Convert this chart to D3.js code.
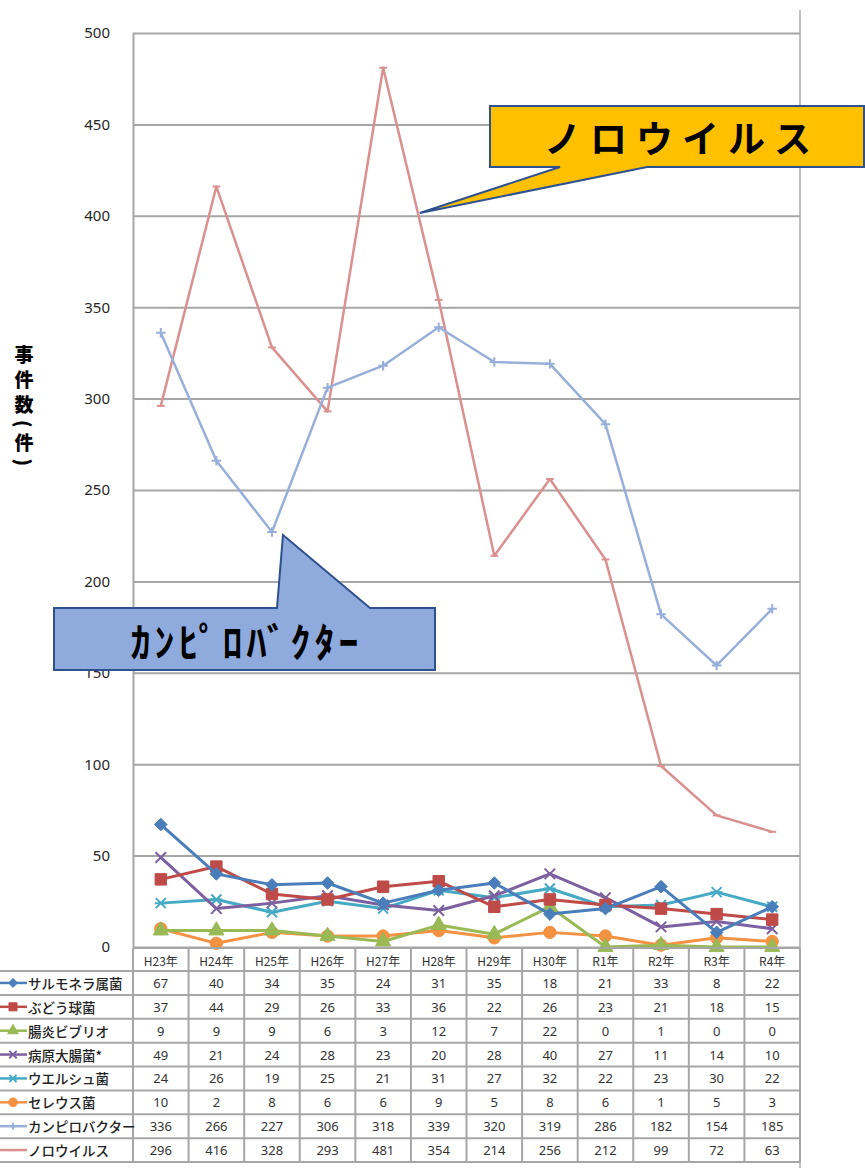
<!DOCTYPE html>
<html>
<head>
<meta charset="utf-8">
<script src="https://cdn.jsdelivr.net/npm/d3@7"></script>
<style>
    body { margin: 0; background: #fff; }
    svg { display: block; font-family: "Noto Sans CJK JP", "Noto Sans", sans-serif; }
</style>
</head>
<body>
<div id="chart"></div>
<script>
// categories (fiscal years)
const years = ["H23年", "H24年", "H25年", "H26年", "H27年", "H28年", "H29年", "H30年", "R1年", "R2年", "R3年", "R4年"];

// series names, same order as the table rows
const seriesNames = ["サルモネラ属菌", "ぶどう球菌", "腸炎ビブリオ", "病原大腸菌*", "ウエルシュ菌", "セレウス菌", "カンピロバクター", "ノロウイルス"];

// number of incidents per year
const salmonella    = [67, 40, 34, 35, 24, 31, 35, 18, 21, 33, 8, 22];
const staphylococcus = [37, 44, 29, 26, 33, 36, 22, 26, 23, 21, 18, 15];
const vibrio        = [9, 9, 9, 6, 3, 12, 7, 22, 0, 1, 0, 0];
const pathogenicEcoli = [49, 21, 24, 28, 23, 20, 28, 40, 27, 11, 14, 10];
const welchii       = [24, 26, 19, 25, 21, 31, 27, 32, 22, 23, 30, 22];
const cereus        = [10, 2, 8, 6, 6, 9, 5, 8, 6, 1, 5, 3];
const campylobacter = [336, 266, 227, 306, 318, 339, 320, 319, 286, 182, 154, 185];
const norovirus     = [296, 416, 328, 293, 481, 354, 214, 256, 212, 99, 72, 63];

const yTicks = [0, 50, 100, 150, 200, 250, 300, 350, 400, 450, 500];

const axisTitle = "事件数(件)";
const noroLabel = "ノロウイルス";
const campyLabel = "ｶﾝﾋﾟﾛﾊﾞｸﾀｰ";


// markers drawn like the spreadsheet ones
const markDiamond = { draw(ctx, size) { let r = Math.sqrt(size) / 2;
    ctx.moveTo(0, -r); ctx.lineTo(r, 0); ctx.lineTo(0, r); ctx.lineTo(-r, 0); ctx.closePath(); } };
const markX = { draw(ctx, size) { let r = Math.sqrt(size) / 2;
    ctx.moveTo(-r, -r); ctx.lineTo(r, r); ctx.moveTo(r, -r); ctx.lineTo(-r, r); } };
const markStar = { draw(ctx, size) { let r = Math.sqrt(size) / 2;
    ctx.moveTo(-r, -r); ctx.lineTo(r, r); ctx.moveTo(r, -r); ctx.lineTo(-r, r);
    ctx.moveTo(-r * 1.2, 0); ctx.lineTo(r * 1.2, 0); } };
const markPlus = { draw(ctx, size) { let r = Math.sqrt(size) / 2;
    ctx.moveTo(-r, 0); ctx.lineTo(r, 0); ctx.moveTo(0, -r); ctx.lineTo(0, r); } };
const markDash = { draw(ctx, size) { let r = Math.sqrt(size) / 2;
    ctx.moveTo(-r, 0); ctx.lineTo(r, 0); } };


class LineTableVis {

    constructor(parentElement) {
        this.parentElement = parentElement;
        this.initVis();
    }

    initVis() {
        let vis = this;

        vis.width = 865;
        vis.height = 1168;
        vis.plot = {left: 133, right: 800, top: 33, bottom: 947};

        vis.svg = d3.select("#" + vis.parentElement).append("svg")
            .attr("width", vis.width)
            .attr("height", vis.height);

        vis.series = [
            {name: seriesNames[0], values: salmonella,      color: "#4a7ebb", symbol: markDiamond,       size: 160, fill: true,  lw: 3},
            {name: seriesNames[1], values: staphylococcus,  color: "#be4b48", symbol: d3.symbolSquare,   size: 130, fill: true,  lw: 3},
            {name: seriesNames[2], values: vibrio,          color: "#98b954", symbol: d3.symbolTriangle, size: 100, fill: true,  lw: 3},
            {name: seriesNames[3], values: pathogenicEcoli, color: "#7d60a0", symbol: markX,             size: 110, fill: false, lw: 3},
            {name: seriesNames[4], values: welchii,         color: "#46aac5", symbol: markStar,          size: 100, fill: false, lw: 3},
            {name: seriesNames[5], values: cereus,          color: "#f39243", symbol: d3.symbolCircle,   size: 120, fill: true,  lw: 3},
            {name: seriesNames[6], values: campylobacter,   color: "#98afd9", symbol: markPlus,          size: 90,  fill: false, lw: 2.5},
            {name: seriesNames[7], values: norovirus,       color: "#d9908f", symbol: markDash,          size: 60,  fill: false, lw: 2.5}
        ];

        vis.x = d3.scaleBand().domain(years).range([vis.plot.left, vis.plot.right]);
        vis.y = d3.scaleLinear().domain([0, 500]).range([vis.plot.bottom, vis.plot.top]);
        vis.row = d3.scaleBand().domain(seriesNames).range([971, 1162]);

        vis.cx = i => vis.x(years[i]) + vis.x.bandwidth() / 2;

        vis.drawAxes();
        vis.drawLines();
        vis.drawTable();
        vis.drawCallouts();
    }

    drawAxes() {
        let vis = this;

        // right border of the chart area
        vis.svg.append("line")
            .attr("x1", vis.plot.right).attr("x2", vis.plot.right)
            .attr("y1", 10).attr("y2", vis.height)
            .attr("stroke", "#bfbfbf").attr("stroke-width", 2);

        let yAxis = vis.svg.append("g")
            .attr("transform", "translate(" + vis.plot.left + ",0)")
            .call(d3.axisLeft(vis.y)
                .tickValues(yTicks)
                .tickSizeInner(-(vis.plot.right - vis.plot.left))
                .tickSizeOuter(0)
                .tickPadding(23));

        yAxis.select(".domain").attr("stroke", "#a6a6a6").attr("stroke-width", 2);
        yAxis.selectAll(".tick line").attr("stroke", "#a6a6a6").attr("stroke-width", 2);
        yAxis.selectAll(".tick text")
            .attr("fill", "#262626")
            .style("font-family", "'Noto Sans', sans-serif")
            .style("font-size", "15px");

        // vertical axis title, one character under the other
        vis.svg.append("text")
            .attr("x", 24)
            .attr("y", 345)
            .attr("writing-mode", "tb")
            .style("font-size", "19px")
            .style("font-weight", 900)
            .style("letter-spacing", "6px")
            .attr("fill", "#000")
            .text(axisTitle);
    }

    drawLines() {
        let vis = this;

        let line = d3.line()
            .x((d, i) => vis.cx(i))
            .y(d => vis.y(d));

        // draw back to front so the small series sit on top like the original
        let order = [7, 6, 5, 4, 3, 2, 1, 0];
        let groups = vis.svg.append("g").selectAll("g")
            .data(order.map(i => vis.series[i]))
            .enter().append("g");

        groups.append("path")
            .attr("d", d => line(d.values))
            .attr("fill", "none")
            .attr("stroke", d => d.color)
            .attr("stroke-width", d => d.lw)
            .attr("stroke-linejoin", "round");

        groups.each(function(s) {
            d3.select(this).selectAll(".mark")
                .data(s.values)
                .enter().append("path")
                .attr("class", "mark")
                .attr("transform", (d, i) => "translate(" + vis.cx(i) + "," + vis.y(d) + ")")
                .attr("d", d3.symbol().type(s.symbol).size(s.size))
                .attr("fill", s.fill ? s.color : "none")
                .attr("stroke", s.color)
                .attr("stroke-width", s.fill ? 1 : 2);
        });
    }

    drawTable() {
        let vis = this;
        let grid = "#a6a6a6";
        let top = 948;

        let t = vis.svg.append("g");

        // horizontal rules
        t.append("line")
            .attr("x1", vis.plot.left).attr("x2", vis.plot.right)
            .attr("y1", top).attr("y2", top)
            .attr("stroke", grid).attr("stroke-width", 2);
        t.selectAll(".hrule")
            .data(seriesNames.map(n => vis.row(n)).concat([vis.row.range()[1]]))
            .enter().append("line")
            .attr("x1", 0).attr("x2", vis.plot.right)
            .attr("y1", d => d).attr("y2", d => d)
            .attr("stroke", grid).attr("stroke-width", 2);

        // vertical rules
        t.selectAll(".vrule")
            .data(years.map(c => vis.x(c)).concat([vis.plot.right]))
            .enter().append("line")
            .attr("x1", d => d).attr("x2", d => d)
            .attr("y1", top).attr("y2", vis.row.range()[1])
            .attr("stroke", grid).attr("stroke-width", 2);

        // header
        t.selectAll(".head")
            .data(years)
            .enter().append("text")
            .attr("x", (d, i) => vis.cx(i))
            .attr("y", 960)
            .attr("text-anchor", "middle")
            .attr("dominant-baseline", "central")
            .attr("fill", "#333")
            .style("font-size", "12px")
            .text(d => d);

        let rows = t.selectAll(".row")
            .data(vis.series)
            .enter().append("g")
            .attr("transform", d => "translate(0," + (vis.row(d.name) + vis.row.bandwidth() / 2) + ")");

        // legend keys
        rows.append("line")
            .attr("x1", 0).attr("x2", 27)
            .attr("stroke", d => d.color)
            .attr("stroke-width", 2.5);
        rows.append("path")
            .attr("transform", "translate(13,0)")
            .attr("d", d => d3.symbol().type(d.symbol).size(d.size * 0.5)())
            .attr("fill", d => d.fill ? d.color : "none")
            .attr("stroke", d => d.color)
            .attr("stroke-width", d => d.fill ? 1 : 2);
        rows.append("text")
            .attr("x", 28)
            .attr("dominant-baseline", "central")
            .attr("fill", "#222")
            .style("font-size", "13.5px")
            .style("font-weight", 500)
            .text(d => d.name);

        // values
        rows.each(function(s) {
            d3.select(this).selectAll(".val")
                .data(s.values)
                .enter().append("text")
                .attr("x", (d, i) => vis.cx(i))
                .attr("text-anchor", "middle")
                .attr("dominant-baseline", "central")
                .attr("fill", "#333")
                .style("font-family", "'Noto Sans', sans-serif")
                .style("font-size", "13px")
                .text(d => d);
        });
    }

    drawCallouts() {
        let vis = this;
        let edge = "#2f528f";

        // ノロウイルス: tip on the H27 -> H28 segment
        let t = 0.66;
        let tipN = [vis.cx(4) + t * (vis.cx(5) - vis.cx(4)),
                    vis.y(norovirus[4]) + t * (vis.y(norovirus[5]) - vis.y(norovirus[4])) - 8];
        let bN = {x0: 490, x1: 864, y0: 106, y1: 167};
        let pN = d3.path();
        pN.moveTo(bN.x0, bN.y0);
        pN.lineTo(bN.x1, bN.y0);
        pN.lineTo(bN.x1, bN.y1);
        pN.lineTo(647, bN.y1);
        pN.lineTo(tipN[0], tipN[1]);
        pN.lineTo(560, bN.y1);
        pN.lineTo(bN.x0, bN.y1);
        pN.closePath();
        vis.svg.append("path")
            .attr("d", pN.toString())
            .attr("fill", "#ffc000")
            .attr("stroke", edge)
            .attr("stroke-width", 2);
        vis.svg.append("text")
            .attr("x", (bN.x0 + bN.x1) / 2 + 5)
            .attr("y", (bN.y0 + bN.y1) / 2)
            .attr("text-anchor", "middle")
            .attr("dominant-baseline", "central")
            .style("font-size", "37px")
            .style("font-weight", 700)
            .style("letter-spacing", "9px")
            .attr("fill", "#000")
            .text(noroLabel);

        // カンピロバクター: tip next to the H25 point
        let tipC = [vis.cx(2) + 11, vis.y(campylobacter[2]) + 3];
        let bC = {x0: 54, x1: 435, y0: 608, y1: 670};
        let pC = d3.path();
        pC.moveTo(bC.x0, bC.y0);
        pC.lineTo(277, bC.y0);
        pC.lineTo(tipC[0], tipC[1]);
        pC.lineTo(370, bC.y0);
        pC.lineTo(bC.x1, bC.y0);
        pC.lineTo(bC.x1, bC.y1);
        pC.lineTo(bC.x0, bC.y1);
        pC.closePath();
        vis.svg.append("path")
            .attr("d", pC.toString())
            .attr("fill", "#8faadc")
            .attr("stroke", edge)
            .attr("stroke-width", 2);
        vis.svg.append("text")
            .attr("x", (bC.x0 + bC.x1) / 2 + 2)
            .attr("y", (bC.y0 + bC.y1) / 2 + 1)
            .attr("text-anchor", "middle")
            .attr("dominant-baseline", "central")
            .style("font-size", "40px")
            .style("font-weight", 700)
            .style("letter-spacing", "4px")
            .attr("fill", "#000")
            .text(campyLabel);
    }
}

new LineTableVis("chart");
</script>
</body>
</html>
